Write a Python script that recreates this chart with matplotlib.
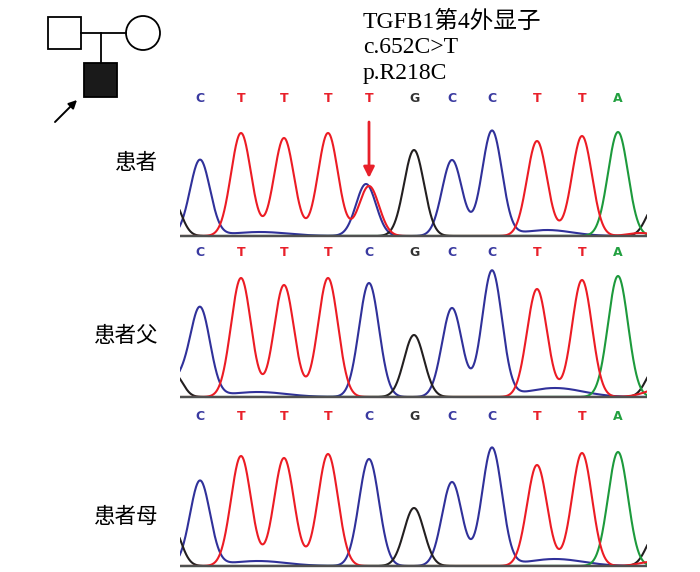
import numpy as np
import matplotlib
matplotlib.use('Agg')
import matplotlib.pyplot as plt
from matplotlib.patches import Rectangle, Circle

# base calls and peak positions (scan units along the trace)
bases = ['C', 'T', 'T', 'T', 'T', 'G', 'C', 'C', 'T', 'T', 'A']
bases_parent = ['C', 'T', 'T', 'T', 'C', 'G', 'C', 'C', 'T', 'T', 'A']
peak_pos = [20, 61, 104, 148, 189, 234, 272, 312, 357, 402, 438]

# peak heights
patient_h = [76, 103, 98, 103, 50, 86, 76, 105, 95, 100, 104]
father_h = [89, 119, 112, 119, 114, 62, 89, 126, 108, 117, 121]
mother_h = [85, 110, 108, 112, 107, 58, 84, 118, 101, 113, 114]

# second (heterozygous) peak in the patient at the mutation site
patient_extra = [('C', 186, 52)]

# low background humps and edge peaks: (channel, position, height, width)
patient_bg = [('C', 80, 4, 28), ('C', 367, 6, 25), ('G', -8, 37, 9), ('G', 475, 30, 9),
              ('T', 460, 3, 12)]
father_bg = [('C', 78, 5, 28), ('C', 375, 9, 28), ('G', -5, 22, 8), ('C', -2, 15, 9),
             ('G', 475, 28, 9), ('T', 480, 8, 15)]
mother_bg = [('C', 78, 5, 28), ('C', 375, 7, 28), ('G', -8, 40, 9), ('G', 475, 30, 9),
             ('T', 470, 4, 12)]

labels = ['患者', '患者父', '患者母']
note_lines = ['TGFB1第4外显子', 'c.652C>T', 'p.R218C']

trace_col = {'C': '#30319a', 'T': '#ec1c24', 'G': '#231f20', 'A': '#1d9a3c'}
letter_col = {'C': '#3a3aa0', 'T': '#e8202a', 'G': '#333333', 'A': '#22a040'}

W, H = 700, 572
fig = plt.figure(figsize=(W / 100, H / 100), dpi=100)

# overlay axis in pixel units for the pedigree and captions
ov = fig.add_axes([0, 0, 1, 1])
ov.set_xlim(0, W)
ov.set_ylim(H, 0)
ov.axis('off')

ped = dict(father=(48, 17, 33, 32), mother=(143, 33, 17), child=(84, 63, 33, 34))
fx, fy, fw, fh = ped['father']
ov.add_patch(Rectangle((fx, fy), fw, fh, fill=False, ec='black', lw=1.3))
mx, my, mr = ped['mother']
ov.add_patch(Circle((mx, my), mr, fill=False, ec='black', lw=1.3))
ov.plot([fx + fw, mx - mr], [my, my], color='black', lw=1.3)
cx, cy, cw, ch = ped['child']
ov.plot([cx + cw / 2, cx + cw / 2], [my, cy], color='black', lw=1.3)
ov.add_patch(Rectangle((cx, cy), cw, ch, fc='#1a1a1a', ec='black', lw=1.3))
ov.annotate('', xy=(cx - 7, cy + ch + 3), xytext=(cx - 29, cy + ch + 25),
            arrowprops=dict(arrowstyle='-|>', color='black', lw=1.4,
                            mutation_scale=12, shrinkA=0, shrinkB=0))

for i, line in enumerate(note_lines):
    ov.text(363, 22 + i * 25.5, line, fontsize=17, va='center', ha='left',
            family=['Liberation Serif', 'Noto Sans CJK SC'])

label_y = [163, 336, 517]
for lab, ly in zip(labels, label_y):
    ov.text(158, ly, lab, fontsize=15.5, va='center', ha='right', fontweight='light',
            family=['Noto Sans CJK SC', 'DejaVu Sans'])


def trace(x, peaks):
    y = np.zeros_like(x)
    for p, h, s in peaks:
        y += h * np.exp(-(x - p) ** 2 / (2 * s ** 2))
    return y


panels = [(bases, patient_h, patient_extra, patient_bg, 236, 137),
          (bases_parent, father_h, [], father_bg, 397, 144),
          (bases_parent, mother_h, [], mother_bg, 566, 150)]

x = np.linspace(-20, 490, 1500)
sigma = 10
axes = []
for calls, heights, extra, bg, base_px, lett_y in panels:
    ax = fig.add_axes([180 / W, 1 - (base_px + 3) / H, 467 / W, 150 / H])
    ax.set_xlim(0, 467)
    ax.set_ylim(-3, 147)
    ax.axis('off')
    for ch in ['C', 'G', 'A', 'T']:
        pk = [(p, h, sigma) for b, p, h in zip(calls, peak_pos, heights) if b == ch]
        pk += [(p, h, sigma) for b, p, h in extra if b == ch]
        pk += [(p, h, s) for b, p, h, s in bg if b == ch]
        ax.plot(x, trace(x, pk), color=trace_col[ch], lw=1.5, zorder=2)
    ax.axhline(0, color='#505050', lw=1.7, zorder=3)
    for b, p in zip(calls, peak_pos):
        ax.text(p, lett_y, b, color=letter_col[b], fontsize=9, fontweight='bold',
                ha='center', va='center', family='DejaVu Sans')
    axes.append(ax)

# red arrow marking the mutation
axes[0].annotate('', xy=(peak_pos[4], 58), xytext=(peak_pos[4], 114),
                 arrowprops=dict(arrowstyle='-|>', color='#e8202a', lw=2,
                                 mutation_scale=16, shrinkA=0, shrinkB=0))

fig.savefig('out.png', dpi=100)
